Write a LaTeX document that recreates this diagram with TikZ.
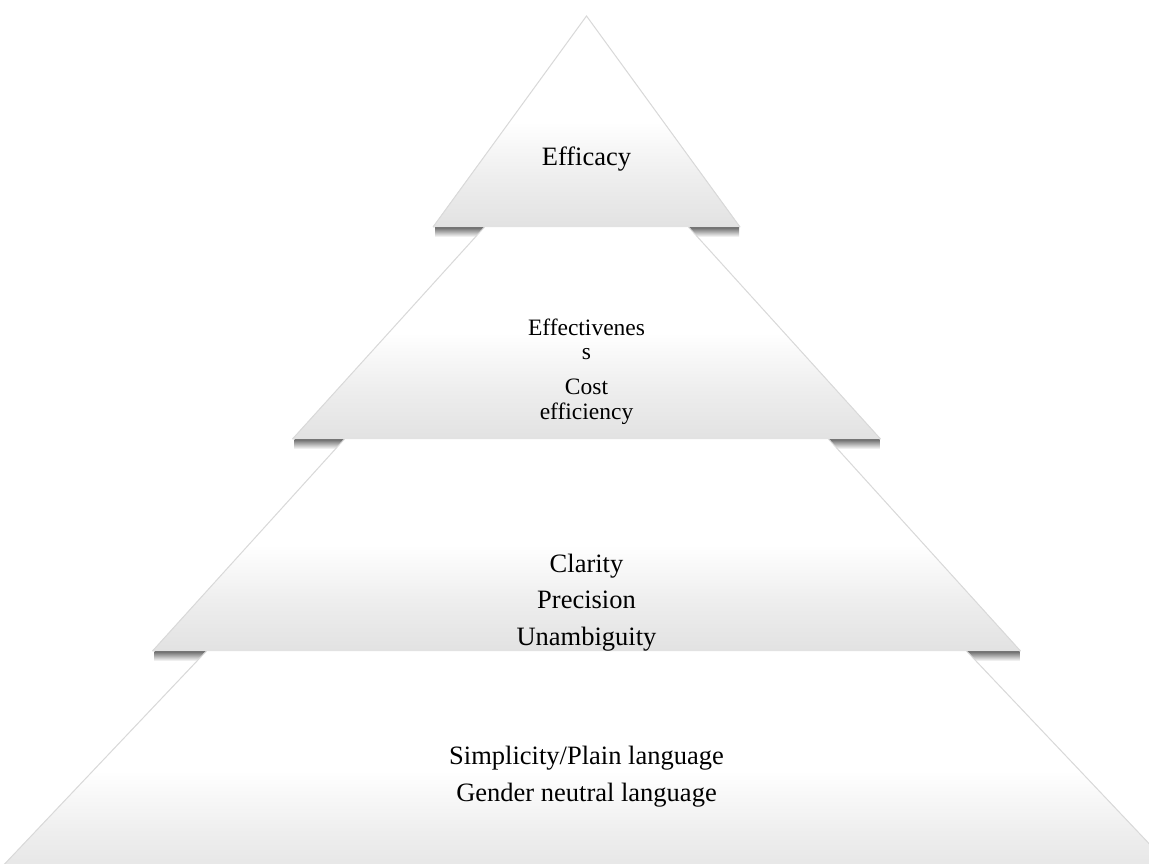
\documentclass[tikz,border=0pt]{standalone}
\usepackage{fontspec}
\setmainfont{Liberation Serif}
\definecolor{tierlow}{HTML}{E2E2E2}
\definecolor{tiermid}{HTML}{EEEEEE}
\pgfdeclareverticalshading{tierfill}{100bp}{color(0bp)=(tierlow); color(25bp)=(tierlow); color(37bp)=(tiermid); color(50bp)=(white); color(100bp)=(white)}
\tikzset{
  tierbox/.style={shading=tierfill},
  edgeshadowA/.style={fill=black!10},
  edgeshadowB/.style={fill=black!22},
  sideedge/.style={draw=black!15, line width=0.5pt},
  baseshadow/.style={top color=black!60, bottom color=white},
  lbl/.style={font=\fontsize{13.25}{18.25}\selectfont, inner sep=0pt, align=center},
  lblsmall/.style={font=\fontsize{11.75}{12.25}\selectfont, inner sep=0pt, align=center}
}
\begin{document}
\begin{tikzpicture}[x=0.5pt,y=-0.5pt]
\useasboundingbox (0,0) rectangle (1149,863);
\clip (0,0) rectangle (1149,863);
\fill[white] (0,0) rectangle (1149,863);
% tier 1
\coordinate (a1) at (586.5,16);
\coordinate (a2) at (433,227);
\coordinate (a3) at (740,227);
% tier 2
\coordinate (b1) at (484.5,227);
\coordinate (b2) at (688.5,227);
\coordinate (b3) at (880.5,439);
\coordinate (b4) at (292.5,439);
% tier 3
\coordinate (c1) at (344.5,439);
\coordinate (c2) at (828.5,439);
\coordinate (c3) at (1020.5,651);
\coordinate (c4) at (152.5,651);
% tier 4
\coordinate (d1) at (206.5,651);
\coordinate (d2) at (966.5,651);
\coordinate (d3) at (1193,890);
\coordinate (d4) at (-20,890);
% soft edge shadows
\begin{scope}[shift={(4,3)}]
\path[edgeshadowA] (a1) -- (a3) -- (a2) -- cycle;
\path[edgeshadowA] (b1) -- (b2) -- (b3) -- (b4) -- cycle;
\path[edgeshadowA] (c1) -- (c2) -- (c3) -- (c4) -- cycle;
\path[edgeshadowA] (d1) -- (d2) -- (d3) -- (d4) -- cycle;
\end{scope}
\begin{scope}[shift={(2,1.5)}]
\path[edgeshadowB] (a1) -- (a3) -- (a2) -- cycle;
\path[edgeshadowB] (b1) -- (b2) -- (b3) -- (b4) -- cycle;
\path[edgeshadowB] (c1) -- (c2) -- (c3) -- (c4) -- cycle;
\path[edgeshadowB] (d1) -- (d2) -- (d3) -- (d4) -- cycle;
\end{scope}
% base shadows
\shade[baseshadow] ([xshift=1pt]a2) rectangle ([xshift=-0.5pt,yshift=-5pt]a3);
\shade[baseshadow] ([xshift=1pt]b4) rectangle ([xshift=-0.5pt,yshift=-5pt]b3);
\shade[baseshadow] ([xshift=1pt]c4) rectangle ([xshift=-0.5pt,yshift=-5pt]c3);
% tiers
\path[tierbox] (d1) -- (d2) -- (d3) -- (d4) -- cycle;
\draw[sideedge] (d4) -- (d1) (d2) -- (d3);
\path[tierbox] (c1) -- (c2) -- (c3) -- (c4) -- cycle;
\draw[sideedge] (c4) -- (c1) (c2) -- (c3);
\path[tierbox] (b1) -- (b2) -- (b3) -- (b4) -- cycle;
\draw[sideedge] (b4) -- (b1) (b2) -- (b3);
\path[tierbox] (a1) -- (a3) -- (a2) -- cycle;
\draw[sideedge] (a2) -- (a1) -- (a3);
% texts
\node[lbl] (t1) at (586.5,159) {Efficacy};
\node[lblsmall] (t2) at (586.5,371.5) {Effectivenes\\s\\[5pt]Cost\\efficiency};
\node[lbl] (t3) at (586.5,602.5) {Clarity\\Precision\\Unambiguity};
\node[lbl] (t4) at (586.5,776.5) {Simplicity/Plain language\\Gender neutral language};
\end{tikzpicture}
\end{document}
